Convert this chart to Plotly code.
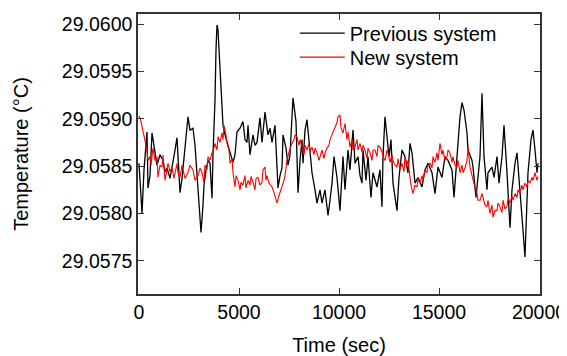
import plotly.graph_objects as go

# Previous system (black)
prev_time = [0, 100, 150, 250, 400, 450, 550, 650, 800, 900, 1050, 1200, 1300, 1400, 1550, 1650,
             1800, 1900, 2000, 2050, 2150, 2300, 2450, 2550, 2700, 2800, 2950, 3050, 3100, 3200,
             3250, 3350, 3450, 3550, 3650, 3700, 3800, 3850, 3900, 3950, 4000, 4100, 4200, 4300,
             4400, 4550, 4700, 4800, 4900, 5050, 5200, 5300, 5400, 5450, 5550, 5700, 5800, 5900,
             6050, 6150, 6300, 6450, 6550, 6650, 6800, 6950, 7050, 7150, 7200, 7350, 7450, 7550,
             7700, 7850, 7950, 8050, 8150, 8200, 8300, 8400, 8550, 8650, 8800, 8900, 9050, 9150,
             9300, 9450, 9550, 9650, 9750, 9900, 10050, 10200, 10300, 10450, 10550, 10700, 10800,
             10950, 11050, 11150, 11200, 11350, 11450, 11600, 11700, 11900, 12050, 12150, 12200,
             12300, 12400, 12500, 12600, 12700, 12900, 13000, 13150, 13300, 13450, 13550, 13650,
             13800, 13950, 14150, 14300, 14450, 14650, 14800, 14950, 15150, 15300, 15450, 15650,
             15750, 15900, 16050, 16150, 16250, 16400, 16450, 16650, 16700, 16850, 16950, 17050,
             17150, 17250, 17400, 17450, 17650, 17750, 17900, 18000, 18150, 18250, 18400, 18500,
             18550, 18650, 18800, 18900, 19000, 19150, 19200, 19300, 19400, 19450, 19600, 19700,
             19800, 19900, 19950]
prev_temp = [29.05853, 29.05814, 29.05800, 29.05846, 29.05886, 29.05827, 29.05840, 29.05885,
             29.05867, 29.05851, 29.05862, 29.05856, 29.05844, 29.05848, 29.05837, 29.05851,
             29.05867, 29.05880, 29.05846, 29.05822, 29.05837, 29.05867, 29.05902, 29.05888,
             29.05890, 29.05872, 29.05825, 29.05800, 29.05780, 29.05809, 29.05830, 29.05846,
             29.05856, 29.05853, 29.05816, 29.05862, 29.05920, 29.05973, 29.05999, 29.05994,
             29.05975, 29.05939, 29.05893, 29.05883, 29.05875, 29.05865, 29.05854, 29.05862,
             29.05886, 29.05890, 29.05897, 29.05878, 29.05875, 29.05893, 29.05862, 29.05883,
             29.05872, 29.05875, 29.05901, 29.05875, 29.05907, 29.05883, 29.05890, 29.05875,
             29.05893, 29.05827, 29.05840, 29.05848, 29.05883, 29.05869, 29.05851, 29.05862,
             29.05922, 29.05897, 29.05822, 29.05856, 29.05878, 29.05853, 29.05888, 29.05899,
             29.05867, 29.05843, 29.05825, 29.05811, 29.05825, 29.05811, 29.05825, 29.05798,
             29.05814, 29.05832, 29.05860, 29.05838, 29.05803, 29.05860, 29.05825, 29.05867,
             29.05846, 29.05888, 29.05853, 29.05860, 29.05840, 29.05832, 29.05867, 29.05835,
             29.05860, 29.05817, 29.05843, 29.05828, 29.05846, 29.05807, 29.05860, 29.05902,
             29.05881, 29.05860, 29.05878, 29.05832, 29.05803, 29.05838, 29.05867, 29.05860,
             29.05843, 29.05874, 29.05864, 29.05832, 29.05838, 29.05828, 29.05846, 29.05853,
             29.05843, 29.05821, 29.05849, 29.05838, 29.05860, 29.05856, 29.05846, 29.05817,
             29.05860, 29.05902, 29.05917, 29.05909, 29.05885, 29.05867, 29.05856, 29.05849,
             29.05817, 29.05838, 29.05860, 29.05927, 29.05860, 29.05825, 29.05843, 29.05849,
             29.05838, 29.05860, 29.05832, 29.05860, 29.05893, 29.05843, 29.05811, 29.05785,
             29.05825, 29.05853, 29.05864, 29.05832, 29.05796, 29.05782, 29.05754, 29.05814,
             29.05843, 29.05878, 29.05888, 29.05867, 29.05843, 29.05853]

# New system (red)
new_time = [0, 50, 100, 200, 300, 400, 450, 550, 600, 700, 800, 900, 950, 1050, 1150, 1200, 1300,
            1400, 1450, 1550, 1650, 1750, 1900, 1950, 2050, 2150, 2200, 2300, 2450, 2550, 2700,
            2800, 2950, 3050, 3150, 3250, 3300, 3400, 3450, 3550, 3650, 3750, 3800, 3900, 3950,
            4050, 4150, 4200, 4250, 4350, 4400, 4500, 4550, 4650, 4700, 4800, 4850, 4950, 5050,
            5100, 5200, 5300, 5350, 5450, 5550, 5600, 5700, 5800, 5850, 5950, 6050, 6150, 6200,
            6300, 6350, 6400, 6500, 6650, 6750, 6800, 6900, 7000, 7050, 7150, 7250, 7300, 7400,
            7500, 7550, 7650, 7750, 7800, 7900, 8000, 8050, 8150, 8250, 8300, 8400, 8500, 8550,
            8650, 8750, 8800, 8900, 9000, 9050, 9150, 9250, 9300, 9400, 9500, 9550, 9650, 9750,
            9800, 9900, 9950, 10050, 10100, 10200, 10300, 10400, 10450, 10550, 10650, 10700,
            10800, 10900, 10950, 11050, 11150, 11200, 11300, 11400, 11450, 11550, 11650, 11700,
            11800, 11900, 11950, 12050, 12150, 12200, 12300, 12400, 12450, 12550, 12650, 12700,
            12800, 12900, 12950, 13050, 13150, 13250, 13300, 13400, 13450, 13550, 13600, 13700,
            13800, 13900, 13950, 14050, 14150, 14200, 14300, 14400, 14450, 14550, 14650, 14700,
            14800, 14900, 14950, 15050, 15150, 15200, 15300, 15400, 15450, 15550, 15650, 15700,
            15800, 15900, 15950, 16050, 16150, 16200, 16300, 16400, 16450, 16550, 16650, 16700,
            16800, 16900, 16950, 17050, 17150, 17200, 17300, 17400, 17450, 17550, 17650, 17700,
            17800, 17900, 17950, 18050, 18150, 18200, 18300, 18400, 18450, 18550, 18650, 18700,
            18800, 18900, 18950, 19050, 19150, 19200, 19300, 19400, 19450, 19550, 19650, 19700,
            19800, 19900, 19950]
new_temp = [29.05903, 29.05901, 29.05897, 29.05888, 29.05878, 29.05867, 29.05856, 29.05860,
            29.05851, 29.05869, 29.05856, 29.05860, 29.05838, 29.05851, 29.05849, 29.05862,
            29.05835, 29.05846, 29.05853, 29.05844, 29.05849, 29.05837, 29.05853, 29.05843,
            29.05838, 29.05851, 29.05846, 29.05837, 29.05843, 29.05851, 29.05846, 29.05835,
            29.05840, 29.05848, 29.05843, 29.05833, 29.05851, 29.05846, 29.05860, 29.05856,
            29.05864, 29.05869, 29.05874, 29.05867, 29.05881, 29.05875, 29.05885, 29.05878,
            29.05893, 29.05883, 29.05874, 29.05867, 29.05853, 29.05858, 29.05843, 29.05828,
            29.05840, 29.05835, 29.05825, 29.05833, 29.05830, 29.05840, 29.05827, 29.05835,
            29.05830, 29.05839, 29.05833, 29.05825, 29.05837, 29.05838, 29.05830, 29.05833,
            29.05846, 29.05849, 29.05835, 29.05840, 29.05832, 29.05828, 29.05822, 29.05818,
            29.05811, 29.05819, 29.05822, 29.05828, 29.05835, 29.05840, 29.05856, 29.05865,
            29.05869, 29.05874, 29.05878, 29.05883, 29.05881, 29.05872, 29.05878, 29.05870,
            29.05862, 29.05872, 29.05867, 29.05874, 29.05865, 29.05870, 29.05862, 29.05869,
            29.05864, 29.05856, 29.05860, 29.05867, 29.05858, 29.05864, 29.05869, 29.05872,
            29.05878, 29.05883, 29.05888, 29.05891, 29.05896, 29.05902, 29.05904, 29.05890,
            29.05885, 29.05895, 29.05878, 29.05886, 29.05870, 29.05878, 29.05867, 29.05870,
            29.05878, 29.05867, 29.05874, 29.05865, 29.05872, 29.05867, 29.05858, 29.05869,
            29.05864, 29.05856, 29.05867, 29.05867, 29.05860, 29.05872, 29.05870, 29.05865,
            29.05860, 29.05856, 29.05867, 29.05864, 29.05854, 29.05862, 29.05856, 29.05851,
            29.05849, 29.05858, 29.05846, 29.05853, 29.05844, 29.05860, 29.05851, 29.05856,
            29.05840, 29.05830, 29.05821, 29.05830, 29.05828, 29.05837, 29.05832, 29.05840,
            29.05835, 29.05846, 29.05843, 29.05851, 29.05853, 29.05848, 29.05860, 29.05854,
            29.05864, 29.05856, 29.05874, 29.05862, 29.05867, 29.05856, 29.05860, 29.05867,
            29.05864, 29.05854, 29.05860, 29.05851, 29.05849, 29.05856, 29.05843, 29.05851,
            29.05843, 29.05848, 29.05856, 29.05870, 29.05849, 29.05840, 29.05835, 29.05827,
            29.05821, 29.05814, 29.05814, 29.05821, 29.05817, 29.05809, 29.05807, 29.05814,
            29.05800, 29.05809, 29.05796, 29.05803, 29.05803, 29.05811, 29.05807, 29.05801,
            29.05814, 29.05805, 29.05807, 29.05816, 29.05811, 29.05818, 29.05814, 29.05821,
            29.05817, 29.05825, 29.05821, 29.05830, 29.05825, 29.05832, 29.05828, 29.05835,
            29.05832, 29.05838, 29.05835, 29.05843, 29.05835, 29.05839]

x_ticks = [0, 5000, 10000, 15000, 20000]
y_ticks = [29.0575, 29.0580, 29.0585, 29.0590, 29.0595, 29.0600]

font_family = "Liberation Sans, Arial, sans-serif"
FS = 20

fig = go.Figure()
fig.add_trace(go.Scatter(x=prev_time, y=prev_temp, mode="lines", name="Previous system",
                         line=dict(color="black", width=1.3), legend="legend", showlegend=True))
fig.add_trace(go.Scatter(x=new_time, y=new_temp, mode="lines", name="New system",
                         line=dict(color="#ff0000", width=1.1), legend="legend2", showlegend=True))

axis_common = dict(showline=True, linecolor="#333333", linewidth=1.5, mirror="ticks",
                   ticks="inside", ticklen=6, tickwidth=1.2, tickcolor="#333333",
                   showgrid=False, zeroline=False,
                   tickfont=dict(family=font_family, size=19.5, color="black"))

fig.update_xaxes(range=[-50, 20050], tickvals=x_ticks, ticktext=[str(v) for v in x_ticks],
                 title=dict(text="Time (sec)", font=dict(family=font_family, size=FS, color="black"),
                            standoff=16),
                 **axis_common)
fig.update_yaxes(range=[29.05715, 29.060106], tickvals=y_ticks,
                 ticktext=[f"{v:.4f}" for v in y_ticks],
                 title=dict(text="Temperature (°C)", font=dict(family=font_family, size=FS, color="black"),
                            standoff=28),
                 **axis_common)

legend_common = dict(xanchor="left", yanchor="middle", bgcolor="rgba(0,0,0,0)", borderwidth=0,
                     font=dict(family=font_family, size=FS, color="black"), itemwidth=45)

fig.update_layout(
    width=559, height=348,
    margin=dict(l=130, r=27, t=6, b=62, autoexpand=False),
    plot_bgcolor="white", paper_bgcolor="white",
    showlegend=True,
    legend=dict(x=0.39, y=0.932, **legend_common),
    legend2=dict(x=0.39, y=0.846, **legend_common),
)

fig.write_html("out.html")
